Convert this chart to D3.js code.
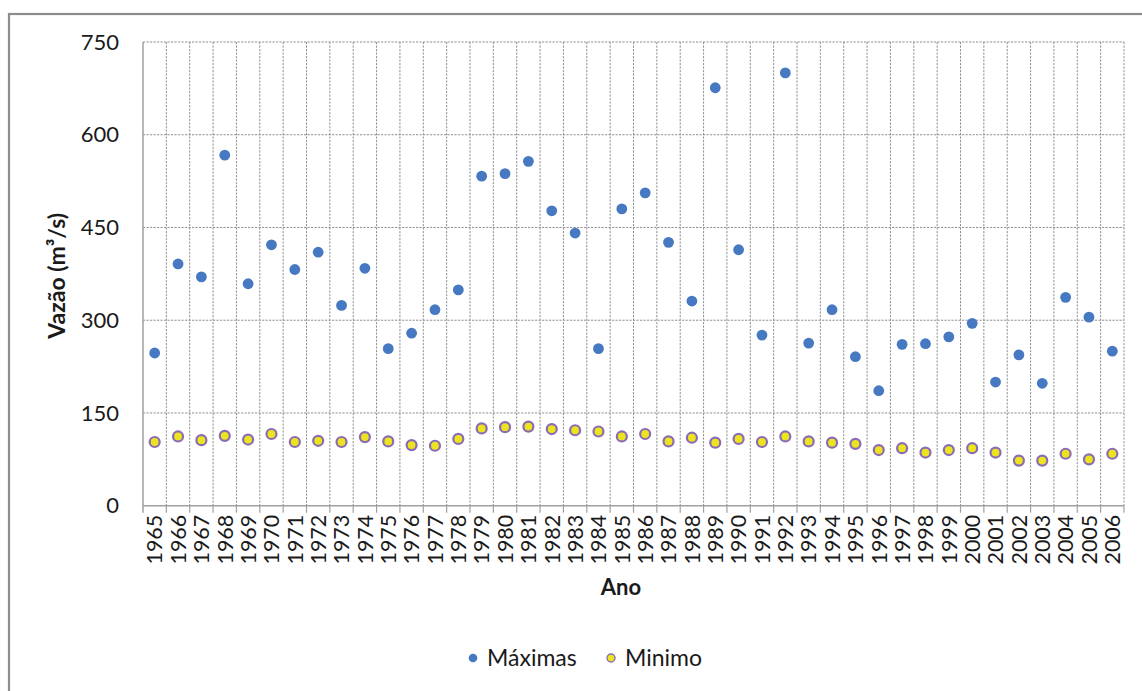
<!DOCTYPE html>
<html>
<head>
<meta charset="utf-8">
<script src="https://cdn.jsdelivr.net/npm/d3@7"></script>
<style>
  html, body { margin: 0; padding: 0; background: #fff; }
  svg { display: block; }
  text { font-family: Lato, "Open Sans", sans-serif; fill: #1a1a1a; }
</style>
</head>
<body>
<svg id="chart" width="1142" height="691"></svg>
<script>
// Annual peak and minimum discharge, 1965–2006
const years = ["1965","1966","1967","1968","1969","1970","1971","1972","1973","1974",
  "1975","1976","1977","1978","1979","1980","1981","1982","1983","1984","1985","1986",
  "1987","1988","1989","1990","1991","1992","1993","1994","1995","1996","1997","1998",
  "1999","2000","2001","2002","2003","2004","2005","2006"];

const maximas = [247,391,370,567,359,422,382,410,324,384,254,279,317,349,533,537,557,477,
  441,254,480,506,426,331,676,414,276,700,263,317,241,186,261,262,273,295,200,244,198,
  337,305,250];

const minimos = [103,112,106,113,107,116,103,105,103,111,104,98,97,108,125,127,128,124,
  122,120,112,116,104,110,102,108,103,112,104,102,100,90,93,86,90,93,86,73,73,84,75,84];

const yTicks = [0,150,300,450,600,750];

const seriesNames = ["Máximas", "Minimo"];

const svg = d3.select("#chart");

// outer chart frame
svg.append("rect")
  .attr("x", 9).attr("y", 14)
  .attr("width", 1160).attr("height", 700)
  .attr("fill", "none").attr("stroke", "#8c8c8c").attr("stroke-width", 2.2);

const plot = { left: 143, right: 1124, top: 42, bottom: 505.7 };

const x = d3.scaleBand().domain(years).range([plot.left, plot.right]).padding(0);
const y = d3.scaleLinear().domain([0, 750]).range([plot.bottom, plot.top]);

const gridColor = "#8f8f8f";
const dash = "2.2,1.3";

// horizontal gridlines
svg.append("g").selectAll("line")
  .data(yTicks.filter(d => d > 0))
  .join("line")
  .attr("x1", plot.left).attr("x2", plot.right)
  .attr("y1", d => y(d)).attr("y2", d => y(d))
  .attr("stroke", gridColor).attr("stroke-width", 1).attr("stroke-dasharray", dash);

// vertical gridlines at category boundaries
svg.append("g").selectAll("line")
  .data(years)
  .join("line")
  .attr("x1", d => x(d) + x.bandwidth()).attr("x2", d => x(d) + x.bandwidth())
  .attr("y1", plot.top).attr("y2", plot.bottom)
  .attr("stroke", gridColor).attr("stroke-width", 1).attr("stroke-dasharray", dash);

// y axis
const yAxis = d3.axisLeft(y).tickValues(yTicks).tickSize(0).tickPadding(24);
const gy = svg.append("g").attr("transform", `translate(${plot.left},0)`).call(yAxis);
gy.select(".domain").remove();
gy.selectAll("text")
  .style("font-family", "Lato, 'Open Sans', sans-serif")
  .style("font-size", "22px").attr("fill", "#1a1a1a");

svg.append("line")
  .attr("x1", plot.left).attr("x2", plot.left)
  .attr("y1", plot.top).attr("y2", plot.bottom + 7)
  .attr("stroke", "#a0a0a0").attr("stroke-width", 1.5);

// x axis
const xAxis = d3.axisBottom(x).tickSize(0).tickPadding(0);
const gx = svg.append("g").attr("transform", `translate(0,${plot.bottom})`).call(xAxis);
gx.select(".domain").remove();
gx.selectAll("text")
  .style("font-family", "Lato, 'Open Sans', sans-serif")
  .style("font-size", "21.5px").attr("fill", "#1a1a1a")
  .attr("text-anchor", "end")
  .attr("transform", "rotate(-90)")
  .attr("x", -9).attr("y", 0).attr("dy", "0.36em");

svg.append("line")
  .attr("x1", plot.left).attr("x2", plot.right)
  .attr("y1", plot.bottom).attr("y2", plot.bottom)
  .attr("stroke", "#a0a0a0").attr("stroke-width", 1.5);

svg.append("g").selectAll("line")
  .data(years)
  .join("line")
  .attr("x1", d => x(d) + x.bandwidth()).attr("x2", d => x(d) + x.bandwidth())
  .attr("y1", plot.bottom).attr("y2", plot.bottom + 7)
  .attr("stroke", "#a0a0a0").attr("stroke-width", 1.2);

// axis titles
svg.append("text")
  .attr("x", 621).attr("y", 595)
  .attr("text-anchor", "middle")
  .style("font-size", "22px").style("font-weight", "bold")
  .text("Ano");

svg.append("text")
  .attr("transform", `translate(65,${(plot.top + plot.bottom) / 2 + 2}) rotate(-90)`)
  .attr("text-anchor", "middle")
  .style("font-size", "23px").style("font-weight", "bold")
  .text("Vazão (m³/s)");

// series markers
const maxStyle = { fill: "#4679c1", stroke: "none", sw: 0, r: 5.4 };
const minStyle = { fill: "#ece41e", stroke: "#8a6cb4", sw: 2.2, r: 5 };

svg.append("g").selectAll("circle")
  .data(years.map((yr, i) => ({ yr, v: minimos[i] })))
  .join("circle")
  .attr("cx", d => x(d.yr) + x.bandwidth() / 2)
  .attr("cy", d => y(d.v))
  .attr("r", minStyle.r)
  .attr("fill", minStyle.fill)
  .attr("stroke", minStyle.stroke).attr("stroke-width", minStyle.sw);

svg.append("g").selectAll("circle")
  .data(years.map((yr, i) => ({ yr, v: maximas[i] })))
  .join("circle")
  .attr("cx", d => x(d.yr) + x.bandwidth() / 2)
  .attr("cy", d => y(d.v))
  .attr("r", maxStyle.r)
  .attr("fill", maxStyle.fill);

// legend
const legend = svg.append("g").attr("transform", "translate(0,658)");
const legendItems = [
  { name: seriesNames[0], x: 473, style: maxStyle },
  { name: seriesNames[1], x: 611, style: minStyle }
];
legendItems.forEach(item => {
  legend.append("circle")
    .attr("cx", item.x).attr("cy", 0)
    .attr("r", item.style === maxStyle ? 4.3 : 4)
    .attr("fill", item.style.fill)
    .attr("stroke", item.style.stroke === "none" ? null : item.style.stroke)
    .attr("stroke-width", item.style.sw ? 1.4 : null);
  legend.append("text")
    .attr("x", item.x + 14).attr("y", 0).attr("dy", "0.36em")
    .style("font-size", "23px")
    .text(item.name);
});
</script>
</body>
</html>
